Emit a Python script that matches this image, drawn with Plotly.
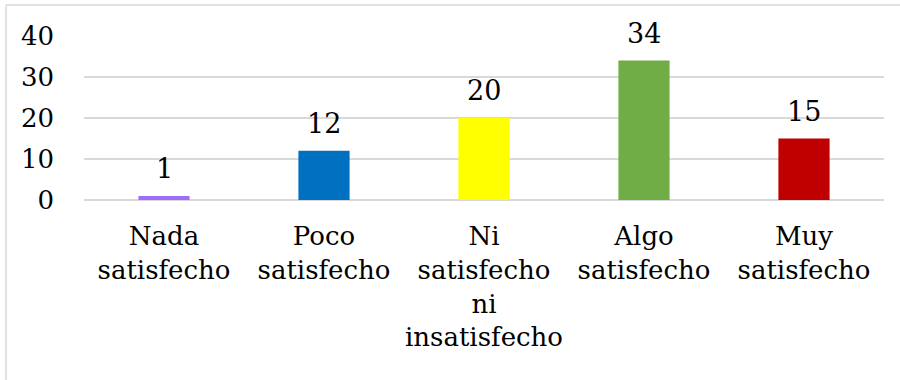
import plotly.graph_objects as go

categories = ["Nada<br>satisfecho", "Poco<br>satisfecho", "Ni<br>satisfecho<br>ni<br>insatisfecho",
              "Algo<br>satisfecho", "Muy<br>satisfecho"]
values = [1, 12, 20, 34, 15]
colors = ["#a06ef6", "#0070c0", "#ffff00", "#70ad47", "#c00000"]
y_ticks = [0, 10, 20, 30, 40]

FONT = "DejaVu Serif"
GRID = "#d9d9d9"

fig = go.Figure()
fig.add_trace(go.Bar(
    x=categories,
    y=values,
    marker=dict(color=colors, line=dict(width=0)),
    width=0.32,
    hoverinfo="skip",
))

# value labels above each bar
for c, v in zip(categories, values):
    fig.add_annotation(x=c, y=v, text=str(v), showarrow=False,
                       xref="x", yref="y", yanchor="bottom", yshift=10,
                       font=dict(family=FONT, size=27, color="#000000"))

# outer chart frame (left and top edges)
L, T = 84, 36
W, H = 800, 164
def px(xp):
    return (xp - L) / W
def py(yp):
    return (T + H - yp) / H
fig.add_shape(type="line", xref="paper", yref="paper",
              x0=px(6), x1=px(6), y0=py(380), y1=py(5),
              line=dict(color=GRID, width=1.5))
fig.add_shape(type="line", xref="paper", yref="paper",
              x0=px(6), x1=px(900), y0=py(5), y1=py(5),
              line=dict(color=GRID, width=1.5))

fig.update_layout(
    width=900, height=380,
    margin=dict(l=L, r=900 - L - W, t=T, b=380 - T - H),
    paper_bgcolor="white", plot_bgcolor="white",
    showlegend=False,
    font=dict(family=FONT, size=27, color="#000000"),
    bargap=0.68,
)
fig.update_xaxes(showgrid=False, showline=False, ticks="", tickangle=0,
                 tickfont=dict(family=FONT, size=26, color="#000000"),
                 ticklabelstandoff=18, fixedrange=True)
fig.update_yaxes(range=[0, 40], tickvals=y_ticks, showgrid=True, gridcolor=GRID,
                 gridwidth=1.5, zeroline=True, zerolinecolor=GRID, zerolinewidth=1.5,
                 showline=False, ticks="", ticklabelstandoff=29,
                 tickfont=dict(family=FONT, size=26, color="#000000"), fixedrange=True)

fig.write_html("out.html")
